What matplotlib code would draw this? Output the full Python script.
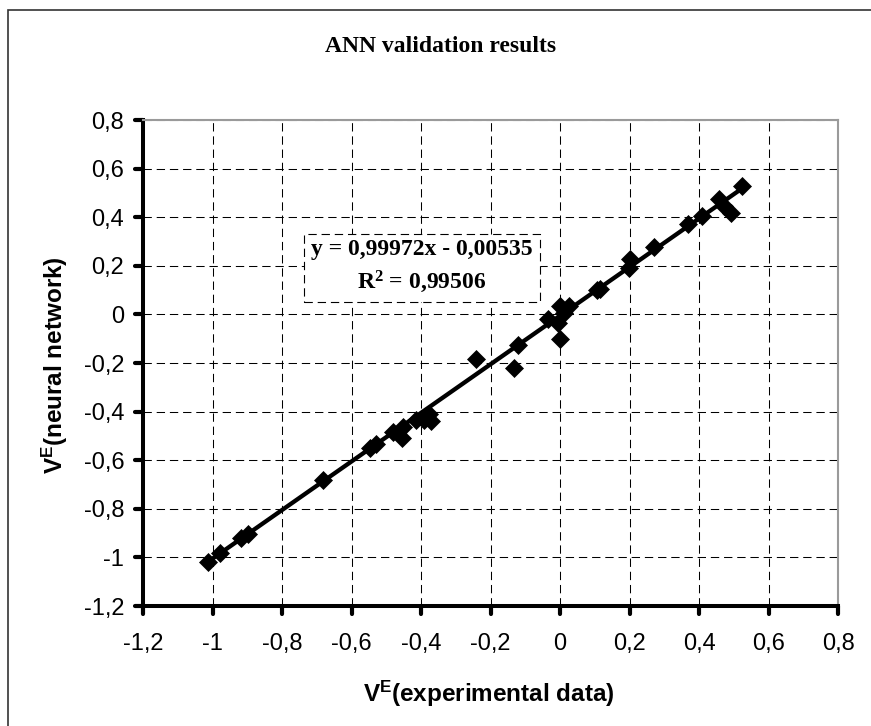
import matplotlib
matplotlib.use("Agg")
import matplotlib.pyplot as plt
from matplotlib.patches import Rectangle
from matplotlib.markers import MarkerStyle, TICKDOWN, TICKLEFT
import numpy as np

# ---------------- data ----------------
x_exp = [-1.012, -0.979, -0.917, -0.899, -0.682, -0.548, -0.529, -0.481, -0.452, -0.454,
         -0.414, -0.390, -0.376, -0.371, -0.241, -0.131, -0.120, -0.034, 0.001, -0.007,
         0.012, 0.001, 0.027, 0.116, 0.106, 0.199, 0.202, 0.271, 0.369, 0.410, 0.458,
         0.472, 0.491, 0.525]
y_nn = [-1.017, -0.983, -0.921, -0.903, -0.680, -0.550, -0.532, -0.485, -0.463, -0.508,
        -0.436, -0.433, -0.408, -0.440, -0.184, -0.220, -0.124, -0.018, 0.034, -0.034,
        0.007, -0.100, 0.034, 0.106, 0.100, 0.193, 0.227, 0.279, 0.371, 0.405, 0.474,
        0.447, 0.419, 0.529]
fit_slope = 0.99972
fit_intercept = -0.00535
r_squared = 0.99506

x_ticks = [-1.2, -1.0, -0.8, -0.6, -0.4, -0.2, 0.0, 0.2, 0.4, 0.6, 0.8]
y_ticks = [-1.2, -1.0, -0.8, -0.6, -0.4, -0.2, 0.0, 0.2, 0.4, 0.6, 0.8]

title_text = "ANN validation results"
xlabel_text = "V$^{E}$(experimental data)"
ylabel_text = "V$^{E}$(neural network)"


def fmt(v):
    s = f"{v:g}".replace(".", ",")
    return "0" if s in ("-0", "0") else s


plt.rcParams["mathtext.default"] = "regular"
plt.rcParams["lines.scale_dashes"] = False

W, H = 871, 726
fig = plt.figure(figsize=(W / 100, H / 100), dpi=100)
fig.patch.set_facecolor("white")

# outer chart border (left/top visible, right/bottom run off the canvas)
fig.patches.append(Rectangle((8 / W, -0.05), 1.2, 1 - 9.5 / H + 0.05,
                             transform=fig.transFigure, fill=False,
                             ec="#333333", lw=1.2, clip_on=False))

ax = fig.add_axes([143 / W, 120 / H, 695 / W, 486 / H])
ax.set_xlim(-1.2, 0.8)
ax.set_ylim(-1.2, 0.8)
ax.set_xticks(x_ticks)
ax.set_yticks(y_ticks)
ax.set_xticklabels([fmt(v) for v in x_ticks], fontsize=17, family="Liberation Sans")
ax.set_yticklabels([fmt(v) for v in y_ticks], fontsize=17, family="Liberation Sans")

ax.grid(True, color="black", lw=0.75, linestyle=(0, (6, 3.5)))
ax.set_axisbelow(True)

for side in ("left", "bottom"):
    ax.spines[side].set_color("black")
    ax.spines[side].set_linewidth(2.9)
for side in ("top", "right"):
    ax.spines[side].set_color("#9a9a9a")
    ax.spines[side].set_linewidth(1.5)

ax.tick_params(axis="both", direction="out", length=5.5, width=3.0, color="black")
ax.tick_params(axis="x", pad=14)
ax.tick_params(axis="y", pad=8)
for t in ax.xaxis.get_major_ticks():
    t.tick1line.set_marker(MarkerStyle(TICKDOWN, capstyle="round"))
for t in ax.yaxis.get_major_ticks():
    t.tick1line.set_marker(MarkerStyle(TICKLEFT, capstyle="round"))

# data points
ax.plot(x_exp, y_nn, linestyle="none", marker="D", ms=9.0, mfc="black",
        mec="black", mew=0.5, zorder=3)

# trend line
xl = np.array([min(x_exp), max(x_exp)])
ax.plot(xl, fit_slope * xl + fit_intercept, color="black", lw=3.1, zorder=4,
        solid_capstyle="butt")

# equation box
eq = (f"y = {fit_slope:.5f}x - {abs(fit_intercept):.5f}".replace(".", ",")
      + "\n" + f"R$^{{2}}$ = {r_squared:.5f}".replace(".", ","))
ax.text(-0.397, 0.194, eq, ha="center", va="center", multialignment="center",
        fontsize=17, fontweight="bold", family="Liberation Serif", linespacing=1.45,
        bbox=dict(boxstyle="square,pad=0.3", fc="white", ec="black", lw=0.8,
                  linestyle=(0, (6, 3.5))), zorder=5)

# title and axis labels
fig.text(441 / W, 1 - 52 / H, title_text, ha="center", va="baseline",
         fontsize=17, fontweight="bold", family="Liberation Serif")
fig.text(489 / W, 1 - 702 / H, xlabel_text, ha="center", va="baseline",
         fontsize=17.5, fontweight="bold", family="Liberation Sans")
fig.text(55 / W, 1 - 365 / H, ylabel_text, ha="center", va="center", rotation=90,
         fontsize=17.5, fontweight="bold", family="Liberation Sans")

fig.savefig("out.png", dpi=100)
